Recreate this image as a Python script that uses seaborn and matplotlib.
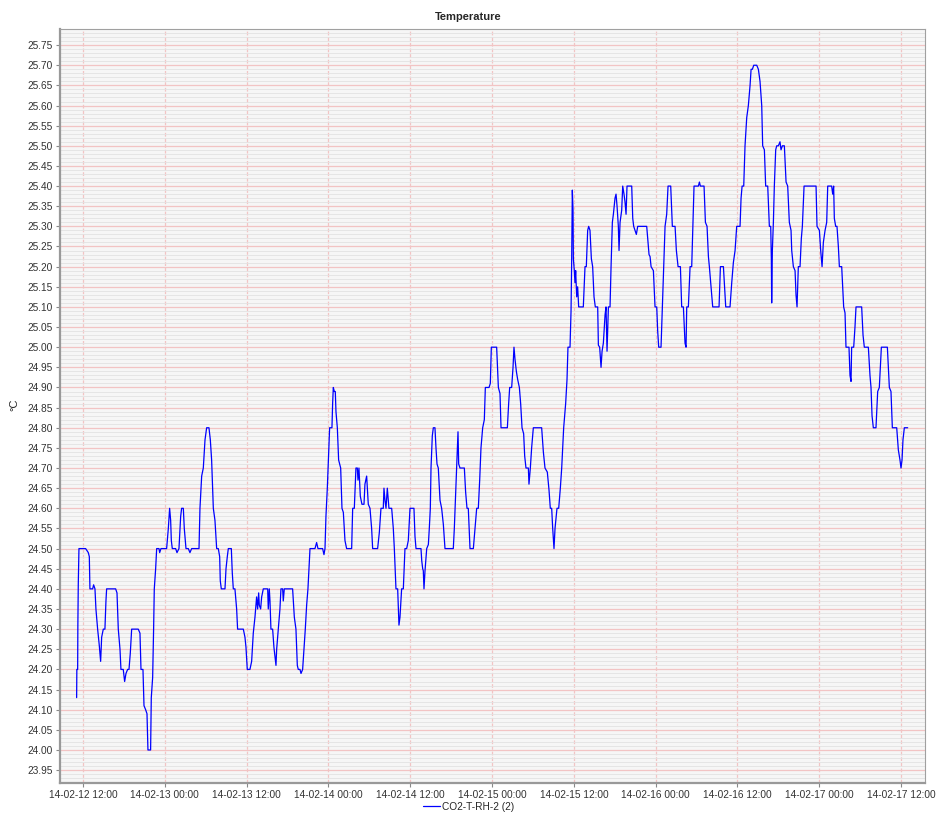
import pandas as pd
import seaborn as sns
import matplotlib.pyplot as plt
import matplotlib.dates as mdates
from matplotlib.ticker import MultipleLocator, FormatStrFormatter

# hours after 2014-02-12 00:00
hours = [
    11.07, 11.10, 11.22, 11.25, 11.31, 11.41, 12.39, 12.78, 12.93, 13.02,
    13.42, 13.56, 13.76, 13.90, 14.15, 14.39, 14.59, 14.74, 14.98, 15.22,
    15.37, 15.47, 16.79, 16.99, 17.18, 17.43, 17.57, 17.91, 18.11, 18.31,
    18.55, 18.75, 18.94, 19.14, 20.11, 20.36, 20.51, 20.80, 20.95, 21.19,
    21.39, 21.53, 21.92, 22.02, 22.22, 22.36, 22.46, 22.66, 22.81, 23.15,
    23.25, 23.44, 24.27, 24.52, 24.71, 24.86, 24.96, 25.10, 25.59, 25.79,
    26.08, 26.33, 26.47, 26.72, 26.86, 27.11, 27.45, 27.69, 27.94, 29.02,
    29.16, 29.41, 29.65, 29.90, 30.14, 30.48, 30.68, 30.87, 31.12, 31.36,
    31.61, 31.85, 32.05, 32.14, 32.29, 32.83, 32.98, 33.17, 33.32, 33.76,
    33.90, 34.05, 34.29, 34.54, 34.68, 35.52, 35.76, 35.91, 36.10, 36.49,
    36.74, 36.98, 37.23, 37.47, 37.62, 37.77, 37.86, 38.06, 38.21, 38.45,
    39.09, 39.18, 39.33, 39.43, 39.57, 39.82, 40.01, 40.31, 40.41, 40.65,
    40.89, 41.04, 41.29, 41.38, 41.53, 42.75, 43.00, 43.24, 43.44, 43.58,
    43.83, 43.98, 44.22, 44.42, 44.61, 44.81, 45.00, 45.15, 45.30, 46.03,
    46.27, 46.47, 47.15, 47.35, 47.50, 47.64, 47.84, 48.03, 48.18, 48.52,
    48.62, 48.72, 48.87, 49.01, 49.11, 49.31, 49.50, 49.80, 49.99, 50.19,
    50.43, 50.67, 51.41, 51.56, 51.80, 52.04, 52.24, 52.34, 52.48, 52.68,
    52.92, 53.22, 53.36, 53.61, 53.85, 54.10, 54.34, 54.49, 55.22, 55.47,
    55.71, 56.05, 56.15, 56.30, 56.45, 56.64, 56.88, 57.28, 57.52, 57.67,
    57.91, 58.16, 58.35, 58.50, 58.74, 58.99, 59.23, 59.48, 59.72, 59.87,
    59.97, 60.55, 60.70, 60.85, 61.58, 61.69, 61.83, 61.92, 62.02, 62.17,
    62.32, 62.42, 62.66, 62.80, 62.95, 63.05, 63.24, 63.39, 63.63, 63.78,
    63.93, 64.12, 64.37, 64.61, 64.86, 65.10, 66.32, 66.47, 66.67, 66.81,
    67.01, 67.11, 67.30, 67.94, 68.13, 68.33, 68.52, 68.77, 69.26, 69.50,
    69.75, 69.99, 70.19, 70.38, 70.63, 70.87, 71.02, 71.56, 71.75, 71.90,
    72.68, 72.93, 73.17, 73.32, 74.25, 74.44, 74.59, 74.88, 75.08, 75.22,
    75.37, 75.57, 75.76, 76.01, 76.20, 76.40, 76.64, 76.79, 76.98, 77.33,
    77.42, 77.62, 77.81, 78.06, 79.28, 79.53, 79.77, 80.11, 80.36, 80.55,
    80.75, 80.90, 81.09, 81.24, 81.53, 81.78, 82.02, 82.22, 82.51, 82.80,
    83.00, 83.14, 83.44, 83.59, 83.68, 83.78, 83.88, 83.93, 84.07, 84.17,
    84.27, 84.42, 84.56, 84.71, 85.39, 85.64, 85.83, 86.03, 86.18, 86.37,
    86.57, 86.76, 86.96, 87.15, 87.50, 87.60, 87.79, 87.99, 88.14, 88.33,
    88.58, 88.72, 88.87, 89.07, 89.31, 89.46, 89.65, 89.80, 90.04, 90.19,
    90.34, 90.53, 90.63, 90.78, 91.02, 91.17, 91.36, 91.51, 91.66, 91.80,
    92.49, 92.64, 92.78, 92.98, 93.17, 93.37, 94.69, 94.84, 95.03, 95.18,
    95.33, 95.67, 95.91, 96.16, 96.30, 96.45, 96.79, 96.99, 97.18, 97.38,
    97.62, 97.82, 98.21, 98.45, 98.85, 99.04, 99.29, 99.63, 99.82, 100.07,
    100.31, 100.46, 100.56, 100.80, 101.05, 101.29, 101.44, 101.63, 102.27, 102.42,
    102.56, 103.10, 103.30, 103.54, 103.74, 103.88, 104.23, 104.37, 105.30, 105.50,
    105.94, 106.08, 106.28, 106.91, 107.16, 107.40, 107.65, 107.89, 108.38, 108.53,
    108.68, 108.92, 109.11, 109.36, 109.60, 109.85, 110.00, 110.19, 110.39, 110.58,
    110.83, 111.07, 111.31, 111.56, 111.70, 111.95, 112.14, 112.44, 112.68, 112.88,
    112.97, 113.02, 113.12, 113.27, 113.41, 113.61, 113.76, 114.00, 114.24, 114.39,
    114.59, 114.88, 115.13, 115.37, 115.61, 115.86, 115.96, 116.20, 116.45, 116.59,
    116.74, 116.93, 117.18, 117.37, 117.52, 117.77, 119.53, 119.67, 120.02, 120.21,
    120.41, 120.60, 120.85, 121.09, 121.24, 121.82, 121.97, 122.11, 122.21, 122.41,
    122.60, 122.80, 122.95, 123.29, 123.43, 123.58, 123.78, 123.92, 124.36, 124.51,
    124.66, 124.75, 125.05, 125.24, 125.39, 126.22, 126.42, 126.61, 127.20, 127.44,
    127.59, 127.74, 127.93, 128.32, 128.57, 128.81, 128.96, 129.11, 129.99, 130.13,
    130.28, 130.52, 130.72, 131.36, 131.60, 131.84, 131.99, 132.14, 132.28, 132.48,
    132.97,
]

temps = [
    24.13, 24.20, 24.20, 24.31, 24.41, 24.50, 24.50, 24.49, 24.48, 24.40,
    24.40, 24.41, 24.40, 24.35, 24.30, 24.26, 24.22, 24.28, 24.30, 24.30,
    24.37, 24.40, 24.40, 24.39, 24.30, 24.25, 24.20, 24.20, 24.17, 24.19,
    24.20, 24.20, 24.24, 24.30, 24.30, 24.29, 24.20, 24.20, 24.11, 24.10,
    24.09, 24.00, 24.00, 24.13, 24.18, 24.30, 24.40, 24.45, 24.50, 24.50,
    24.49, 24.50, 24.50, 24.55, 24.60, 24.57, 24.52, 24.50, 24.50, 24.49,
    24.50, 24.58, 24.60, 24.60, 24.55, 24.50, 24.50, 24.49, 24.50, 24.50,
    24.60, 24.68, 24.70, 24.77, 24.80, 24.80, 24.77, 24.72, 24.60, 24.57,
    24.50, 24.50, 24.48, 24.42, 24.40, 24.40, 24.45, 24.48, 24.50, 24.50,
    24.44, 24.40, 24.40, 24.35, 24.30, 24.30, 24.28, 24.255, 24.20, 24.20,
    24.22, 24.29, 24.33, 24.38, 24.35, 24.39, 24.36, 24.35, 24.38, 24.40,
    24.40, 24.35, 24.40, 24.37, 24.30, 24.30, 24.255, 24.21, 24.25, 24.30,
    24.35, 24.40, 24.40, 24.37, 24.40, 24.40, 24.33, 24.30, 24.21, 24.20,
    24.20, 24.19, 24.20, 24.25, 24.30, 24.36, 24.40, 24.45, 24.50, 24.50,
    24.515, 24.50, 24.50, 24.485, 24.50, 24.58, 24.65, 24.73, 24.80, 24.80,
    24.86, 24.90, 24.89, 24.89, 24.84, 24.80, 24.72, 24.70, 24.60, 24.59,
    24.52, 24.50, 24.50, 24.60, 24.60, 24.70, 24.70, 24.67, 24.70, 24.63,
    24.61, 24.61, 24.66, 24.68, 24.61, 24.60, 24.55, 24.50, 24.50, 24.54,
    24.60, 24.60, 24.65, 24.62, 24.60, 24.65, 24.60, 24.60, 24.55, 24.50,
    24.40, 24.40, 24.31, 24.33, 24.40, 24.40, 24.50, 24.50, 24.52, 24.57,
    24.60, 24.60, 24.53, 24.50, 24.50, 24.47, 24.45, 24.445, 24.40, 24.445,
    24.48, 24.50, 24.51, 24.55, 24.60, 24.70, 24.78, 24.80, 24.80, 24.75,
    24.71, 24.70, 24.62, 24.60, 24.56, 24.50, 24.50, 24.55, 24.64, 24.70,
    24.79, 24.71, 24.70, 24.70, 24.64, 24.60, 24.60, 24.50, 24.50, 24.55,
    24.60, 24.60, 24.67, 24.75, 24.80, 24.82, 24.90, 24.90, 24.91, 25.00,
    25.00, 24.90, 24.885, 24.80, 24.80, 24.86, 24.90, 24.90, 24.95, 25.00,
    24.97, 24.94, 24.92, 24.90, 24.86, 24.80, 24.785, 24.73, 24.70, 24.70,
    24.66, 24.70, 24.75, 24.80, 24.80, 24.74, 24.70, 24.69, 24.645, 24.60,
    24.60, 24.55, 24.50, 24.55, 24.60, 24.60, 24.65, 24.70, 24.80, 24.86,
    24.92, 25.00, 25.00, 25.09, 25.21, 25.39, 25.34, 25.22, 25.19, 25.16,
    25.19, 25.125, 25.15, 25.10, 25.10, 25.20, 25.20, 25.29, 25.30, 25.29,
    25.22, 25.20, 25.125, 25.10, 25.10, 25.005, 25.00, 24.95, 24.99, 25.01,
    25.08, 25.10, 24.99, 25.10, 25.10, 25.20, 25.31, 25.33, 25.37, 25.38,
    25.35, 25.30, 25.24, 25.31, 25.34, 25.40, 25.38, 25.36, 25.33, 25.40,
    25.40, 25.32, 25.30, 25.29, 25.28, 25.30, 25.30, 25.27, 25.23, 25.225,
    25.20, 25.19, 25.10, 25.10, 25.04, 25.00, 25.00, 25.10, 25.19, 25.30,
    25.33, 25.40, 25.40, 25.30, 25.30, 25.24, 25.20, 25.20, 25.10, 25.10,
    25.01, 25.00, 25.10, 25.10, 25.20, 25.20, 25.29, 25.40, 25.40, 25.41,
    25.40, 25.40, 25.31, 25.30, 25.225, 25.20, 25.13, 25.10, 25.10, 25.20,
    25.20, 25.16, 25.10, 25.10, 25.16, 25.21, 25.24, 25.30, 25.30, 25.37,
    25.40, 25.40, 25.50, 25.57, 25.60, 25.65, 25.69, 25.69, 25.70, 25.70,
    25.70, 25.69, 25.66, 25.60, 25.50, 25.49, 25.40, 25.40, 25.30, 25.30,
    25.22, 25.11, 25.24, 25.31, 25.40, 25.49, 25.50, 25.50, 25.51, 25.49,
    25.50, 25.50, 25.41, 25.40, 25.31, 25.29, 25.24, 25.20, 25.19, 25.13,
    25.10, 25.20, 25.20, 25.27, 25.30, 25.40, 25.40, 25.30, 25.29, 25.24,
    25.20, 25.26, 25.29, 25.31, 25.40, 25.40, 25.38, 25.40, 25.32, 25.30,
    25.30, 25.25, 25.20, 25.20, 25.15, 25.10, 25.085, 25.00, 25.00, 24.93,
    24.915, 25.00, 25.00, 25.05, 25.10, 25.10, 25.03, 25.00, 25.00, 24.93,
    24.90, 24.83, 24.80, 24.80, 24.89, 24.90, 24.95, 25.00, 25.00, 24.95,
    24.90, 24.89, 24.80, 24.80, 24.745, 24.72, 24.70, 24.72, 24.77, 24.80,
    24.80,
]

series_name = "CO2-T-RH-2 (2)"
start = pd.Timestamp("2014-02-12 00:00")

df = pd.DataFrame({
    "time": start + pd.to_timedelta(hours, unit="h"),
    "temp": temps,
})

sns.set_style("white")
plt.rcParams["font.family"] = ["Liberation Sans", "DejaVu Sans"]

fig = plt.figure(figsize=(9.37, 8.16), dpi=100)
ax = fig.add_axes([60 / 937, 1 - 783 / 816, 865 / 937, 754 / 816])
ax.set_facecolor("#f6f6f6")

sns.lineplot(data=df, x="time", y="temp", color="#0000ff", linewidth=0.9,
             sort=False, estimator=None, legend=False, ax=ax)
line = ax.lines[0]
line.set_label(series_name)

ax.set_xlim(start + pd.Timedelta(hours=8.63), start + pd.Timedelta(hours=135.51))
ax.set_ylim(23.918, 25.79)

ax.yaxis.set_major_locator(MultipleLocator(0.05))
ax.yaxis.set_minor_locator(MultipleLocator(0.01))
ax.yaxis.set_major_formatter(FormatStrFormatter("%.2f"))
ax.xaxis.set_major_locator(mdates.HourLocator(byhour=[0, 12]))
ax.xaxis.set_major_formatter(mdates.DateFormatter("%y-%m-%d %H:%M"))

# grid like the original: grey minor lines, pink major lines
ax.grid(which="minor", axis="y", color="#e2e2e2", linewidth=0.6)
ax.grid(which="major", axis="y", color="#f2c4c4", linewidth=0.9)
ax.grid(which="major", axis="x", color="#f2c4c4", linewidth=0.9, linestyle=(0, (3, 1.5)))
ax.set_axisbelow(True)

ax.tick_params(which="major", direction="out", length=3, width=0.8, color="#888888",
               labelsize=7.3, labelcolor="#333333", pad=2, left=True, bottom=True)
ax.tick_params(which="minor", length=0)

for side in ["top", "right"]:
    ax.spines[side].set_color("#a0a0a0")
    ax.spines[side].set_linewidth(0.8)
for side in ["left", "bottom"]:
    ax.spines[side].set_color("#999999")
    ax.spines[side].set_linewidth(1.6)

ax.set_xlabel("")
ax.set_ylabel("")

fig.text(0.5, 1 - 17 / 816, "Temperature", ha="center", va="center",
         fontsize=8, fontweight="bold")
fig.text(14 / 937, 1 - 405 / 816, "°C", ha="center", va="center",
         rotation=90, fontsize=8)

fig.legend(handles=[line], labels=[series_name], loc="center",
           bbox_to_anchor=(0.5, 1 - 807 / 816), frameon=False, fontsize=7.3,
           handlelength=1.6, handletextpad=0.2, borderpad=0)

plt.savefig("out.png", dpi=100)
